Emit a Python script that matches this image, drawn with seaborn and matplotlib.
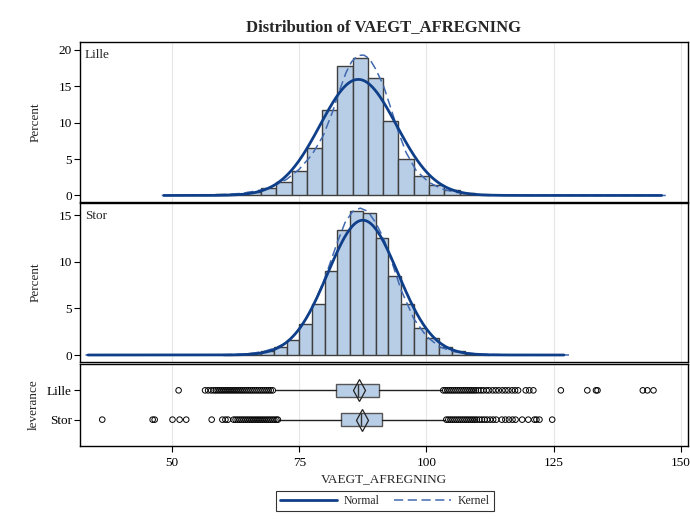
import numpy as np
import pandas as pd
import matplotlib
matplotlib.use("Agg")
import matplotlib.pyplot as plt
import seaborn as sns
from matplotlib.lines import Line2D

# ---------------- data ----------------
groups = ["Lille", "Stor"]
xticks = [50, 75, 100, 125, 150]

lille_mid = [57, 60, 63, 66, 69, 72, 75, 78, 81, 84, 87, 90, 93, 96, 99, 102, 105, 108, 111]
lille_pct = [0.03, 0.14, 0.23, 0.5, 1.0, 1.84, 3.4, 6.5, 11.8, 17.8, 18.85, 16.2, 10.2, 5.06, 2.67,
             1.45, 0.72, 0.3, 0.09]
lille_binw = 3.0

stor_mid = [61.25, 63.75, 66.25, 68.75, 71.25, 73.75, 76.25, 78.75, 81.25, 83.75, 86.25, 88.75,
            91.25, 93.75, 96.25, 98.75, 101.25, 103.75, 106.25, 108.75, 111.25]
stor_pct = [0.02, 0.05, 0.18, 0.43, 0.84, 1.6, 3.3, 5.5, 9.0, 13.4, 15.4, 15.2, 12.6, 8.5, 5.45,
            2.88, 1.79, 0.82, 0.4, 0.15, 0.05]
stor_binw = 2.5

# fitted normal parameters (mean, sd, curve range)
lille_norm = (86.6, 7.5, 48.4, 146.2)
stor_norm = (87.5, 6.9, 33.5, 127.0)

# kernel density curves (x, percent)
lille_kx = [48.0, 55, 60, 64, 67.5, 70, 72.5, 75, 77.5, 79.7, 81.5, 83, 84.2, 85.3, 86.5, 87.7,
            88.8, 90, 91.5, 93, 94.5, 96, 98, 100.5, 103, 106, 110, 120, 135, 147]
lille_ky = [0.0, 0.03, 0.12, 0.3, 0.75, 1.3, 2.2, 3.6, 5.6, 8.2, 11.4, 14.6, 16.9, 18.4, 19.25, 19.3,
            18.8, 17.4, 15.2, 12.0, 8.7, 5.9, 3.4, 1.8, 0.9, 0.4, 0.12, 0.03, 0.01, 0.0]
stor_kx = [33.0, 50, 60, 65, 68, 70, 72.5, 75, 77.5, 80, 82.5, 84, 85.5, 87, 88.5, 90, 91.5, 93,
           95, 97.5, 100, 102.5, 105, 110, 115, 128]
stor_ky = [0.0, 0.01, 0.03, 0.12, 0.38, 0.7, 1.3, 2.7, 4.9, 8.2, 12.1, 14.2, 15.4, 15.75, 15.4,
           14.2, 12.6, 10.3, 7.0, 3.9, 2.0, 0.9, 0.4, 0.1, 0.03, 0.0]

# box-plot statistics
lille_box = dict(q1=82.2, med=86.5, q3=90.6, mean=86.8, whislo=70.3, whishi=103.0)
stor_box = dict(q1=83.3, med=87.2, q3=91.3, mean=87.4, whislo=71.0, whishi=103.6)

lille_out = [51.3, 56.5, 57.1, 57.7, 58.2, 58.6, 59.0, 59.4, 59.8, 60.2, 60.6, 61.0, 61.4, 61.8,
             62.2, 62.6, 63.0, 63.4, 63.8, 64.2, 64.6, 65.0, 65.4, 65.8, 66.2, 66.6, 67.0, 67.4,
             67.8, 68.2, 68.6, 69.0, 69.4, 69.8,
             103.3, 103.7, 104.1, 104.5, 104.9, 105.3, 105.7, 106.1, 106.5, 106.9, 107.3, 107.7,
             108.1, 108.5, 108.9, 109.3, 109.7, 110.2, 110.7, 111.2, 111.8, 112.3, 113.0, 113.6,
             114.2, 114.9, 115.5, 116.1, 116.8, 117.4, 118.0, 119.5, 120.2, 121.0, 126.4, 131.6,
             133.3, 133.6, 142.5, 143.4, 144.6]
stor_out = [36.3, 46.2, 46.6, 50.1, 51.5, 52.8, 57.8, 59.9, 60.5, 61.0, 62.1, 62.5, 62.9, 63.3,
            63.7, 64.1, 64.5, 64.9, 65.3, 65.7, 66.1, 66.5, 66.9, 67.3, 67.7, 68.1, 68.5, 68.9,
            69.3, 69.7, 70.1, 70.5, 70.8,
            103.9, 104.3, 104.7, 105.1, 105.5, 105.9, 106.3, 106.7, 107.1, 107.5, 107.9, 108.3,
            108.7, 109.1, 109.5, 109.9, 110.4, 110.9, 111.4, 111.9, 112.5, 113.1, 113.7, 114.8,
            115.5, 116.2, 116.9, 117.5, 118.8, 120.0, 121.2, 121.6, 122.2, 124.7]

# ---------------- styling ----------------
sns.set_theme(style="white")
plt.rcParams["font.family"] = ["Liberation Serif", "DejaVu Serif"]
plt.rcParams["axes.linewidth"] = 1.0

FILL = "#B8CDE6"
EDGE = "#3F3F3F"
NORM = "#103F8A"
KERN = "#4169AF"
GRID = "#E6E6E6"
XLIM = (31.93, 151.38)

W, H = 690, 519
fig = plt.figure(figsize=(W / 100, H / 100), dpi=100)


def ax_px(left, top, right, bottom):
    return fig.add_axes([left / W, 1 - bottom / H, (right - left) / W, (bottom - top) / H])


ax1 = ax_px(80, 42, 688, 202)
ax2 = ax_px(80, 203, 688, 362)
ax3 = ax_px(80, 364, 688, 446)


def hist_panel(ax, mids, pct, binw, norm, kx, ky, label, ylim, yticks):
    mids = np.asarray(mids, dtype=float)
    edges = list(np.append(mids - binw / 2, mids[-1] + binw / 2))
    hdf = pd.DataFrame({"mid": mids, "pct": np.asarray(pct, dtype=float)})
    for xv in xticks:
        ax.axvline(xv, color=GRID, lw=0.8, zorder=0)
    sns.histplot(data=hdf, x="mid", weights="pct", bins=edges, ax=ax, color=FILL, alpha=1.0,
                 edgecolor=EDGE, linewidth=1.0, zorder=2)
    mu, sd, lo, hi = norm
    xs = np.linspace(lo, hi, 600)
    ys = 100 * binw / (sd * np.sqrt(2 * np.pi)) * np.exp(-0.5 * ((xs - mu) / sd) ** 2)
    sns.lineplot(x=xs, y=ys, ax=ax, color=NORM, lw=2.0, zorder=4, sort=False)
    sns.lineplot(x=kx, y=ky, ax=ax, color=KERN, lw=1.1, zorder=3, sort=False,
                 linestyle=(0, (6, 3)))
    ax.set_xlim(*XLIM)
    ax.set_ylim(*ylim)
    ax.set_yticks(yticks)
    ax.set_xticks(xticks)
    ax.tick_params(axis="x", bottom=False, labelbottom=False)
    ax.tick_params(axis="y", left=True, length=4, width=0.8, labelsize=9.5, pad=2, colors="black")
    ax.set_ylabel("Percent", fontsize=9.5, labelpad=12)
    ax.set_xlabel("")
    ax.text(0.008, 0.955, label, transform=ax.transAxes, ha="left", va="top", fontsize=9.5)
    for s in ax.spines.values():
        s.set_color("black")


hist_panel(ax1, lille_mid, lille_pct, lille_binw, lille_norm, lille_kx, lille_ky, "Lille",
           (-0.9, 21.1), [0, 5, 10, 15, 20])
hist_panel(ax2, stor_mid, stor_pct, stor_binw, stor_norm, stor_kx, stor_ky, "Stor",
           (-0.75, 16.3), [0, 5, 10, 15])

# ---------------- box plot panel ----------------
for xv in xticks:
    ax3.axvline(xv, color=GRID, lw=0.8, zorder=0)

stats = []
for g, b in zip(groups, [lille_box, stor_box]):
    d = dict(b)
    d["label"] = g
    d["fliers"] = []
    stats.append(d)

bxp_kw = dict(positions=[0, 1], widths=0.42, showmeans=True, showfliers=False,
              patch_artist=True, showcaps=False,
              boxprops=dict(facecolor=FILL, edgecolor="#555555", linewidth=1.0),
              medianprops=dict(color="#333333", linewidth=1.0),
              whiskerprops=dict(color="#222222", linewidth=1.0),
              meanprops=dict(marker="d", markersize=11, markerfacecolor="none",
                             markeredgecolor="#222222", markeredgewidth=0.9))
try:
    ax3.bxp(stats, orientation="horizontal", **bxp_kw)
except TypeError:
    ax3.bxp(stats, vert=False, **bxp_kw)

out_df = pd.DataFrame({
    "value": lille_out + stor_out,
    "pos": [0] * len(lille_out) + [1] * len(stor_out),
})
sns.scatterplot(data=out_df, x="value", y="pos", ax=ax3, marker="o", s=16,
                facecolor="none", edgecolor="black", linewidth=0.7, zorder=5, legend=False)

ax3.set_xlim(*XLIM)
ax3.set_ylim(1.9, -0.9)
ax3.set_yticks([0, 1])
ax3.set_yticklabels(groups)
ax3.set_xticks(xticks)
ax3.set_xticklabels([str(v) for v in xticks])
ax3.tick_params(axis="both", length=4, width=0.8, labelsize=9.5, colors="black",
                bottom=True, left=True)
ax3.tick_params(axis="y", pad=2)
ax3.tick_params(axis="x", pad=4)
ax3.set_ylabel("leverance", fontsize=9.5, labelpad=5)
ax3.set_xlabel("VAEGT_AFREGNING", fontsize=9.5, labelpad=3)
for s in ax3.spines.values():
    s.set_color("black")

# ---------------- title and legend ----------------
fig.text(384 / W, 1 - 27 / H, "Distribution of VAEGT_AFREGNING", ha="center", va="center",
         fontsize=12, fontweight="bold")

handles = [Line2D([], [], color=NORM, lw=2.0),
           Line2D([], [], color=KERN, lw=1.1, linestyle=(0, (6, 3)))]
leg = fig.legend(handles, ["Normal", "Kernel"], loc="lower center",
                 bbox_to_anchor=(385 / W, 8 / H), ncol=2, frameon=True, fancybox=False,
                 edgecolor="black", fontsize=8.5, handlelength=4.8, columnspacing=1.2,
                 borderpad=0.35, handletextpad=0.6, borderaxespad=0)
leg.get_frame().set_linewidth(0.8)

fig.savefig("out.png", dpi=100)
